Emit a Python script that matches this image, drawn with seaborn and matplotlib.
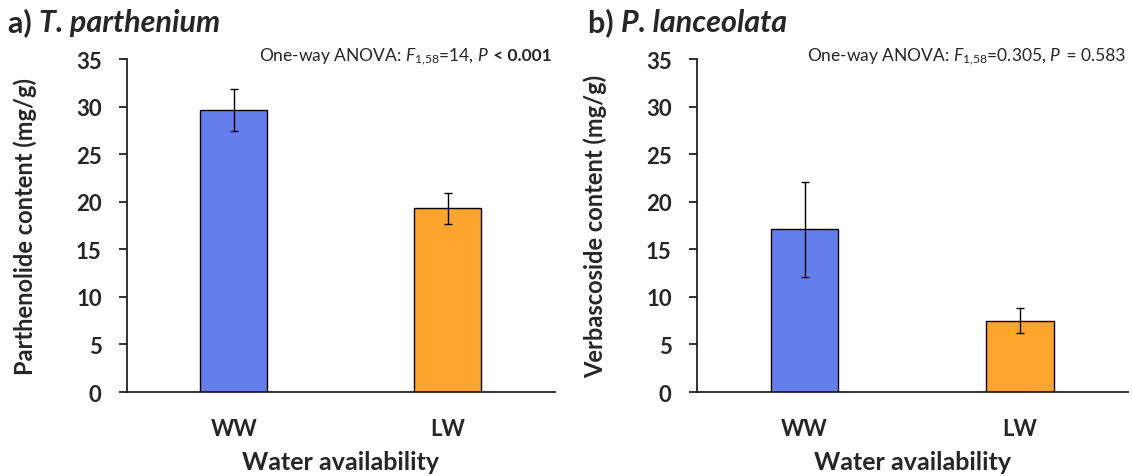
import numpy as np
import pandas as pd
import matplotlib
matplotlib.use("Agg")
import matplotlib.pyplot as plt
import seaborn as sns

# ---- data ----
categories = ["WW", "LW"]
parthenolide_mean = [29.6, 19.3]
parthenolide_err = [2.2, 1.6]
verbascoside_mean = [17.1, 7.5]
verbascoside_err = [5.0, 1.3]
yticks = [0, 5, 10, 15, 20, 25, 30, 35]
bar_colors = ["#647EEB", "#FFA52E"]

sns.set_theme(style="white")
plt.rcParams["font.family"] = ["Lato", "DejaVu Sans"]
plt.rcParams["mathtext.fontset"] = "custom"
plt.rcParams["mathtext.rm"] = "Lato"
plt.rcParams["mathtext.it"] = "Lato:italic"
plt.rcParams["mathtext.bf"] = "Lato:bold"

W, H = 1132, 477
fig = plt.figure(figsize=(W / 100, H / 100), dpi=100)
fig.patch.set_facecolor("white")

ax_bottom = 1 - 393 / H
ax_h = (393 - 60) / H
axL = fig.add_axes([126.7 / W, ax_bottom, (555 - 126.7) / W, ax_h])
axR = fig.add_axes([696.7 / W, ax_bottom, (1128 - 696.7) / W, ax_h])

panels = [
    (axL, parthenolide_mean, parthenolide_err, "Parthenolide content (mg/g)",
     "a) ", "T. parthenium", 8,
     r"One-way ANOVA: $\mathit{F}_{1{,}58}$=14, $\mathit{P}$", " < 0.001", True, 552),
    (axR, verbascoside_mean, verbascoside_err, "Verbascoside content (mg/g)",
     "b) ", "P. lanceolata", 588,
     r"One-way ANOVA: $\mathit{F}_{1{,}58}$=0.305, $\mathit{P}$", " = 0.583", False, 1125),
]

texts = []
for ax, means, errs, ylabel, tprefix, tspecies, tx, anova, pval, pbold, ax_right in panels:
    df = pd.DataFrame({"Water availability": categories, "value": means})
    sns.barplot(data=df, x="Water availability", y="value", hue="Water availability",
                palette=bar_colors, width=0.3125, edgecolor="black", linewidth=1.0,
                errorbar=None, legend=False, ax=ax, saturation=1)
    ax.errorbar(np.arange(len(categories)), means, yerr=errs, fmt="none",
                ecolor="black", elinewidth=1.0, capsize=3, capthick=1.0)
    ax.set_xlim(-0.5, 1.5)
    ax.set_ylim(0, 35)
    ax.set_yticks(yticks)
    ax.set_yticklabels([str(t) for t in yticks], fontsize=16, fontweight="bold")
    ax.set_xticks(range(len(categories)))
    ax.set_xticklabels(categories, fontsize=16, fontweight="bold")
    ax.set_ylabel(ylabel, fontsize=17, fontweight="bold", labelpad=28)
    ax.set_xlabel("Water availability", fontsize=18, fontweight="bold", labelpad=8)
    for s in ["top", "right"]:
        ax.spines[s].set_visible(False)
    for s in ["left", "bottom"]:
        ax.spines[s].set_color("#222222")
        ax.spines[s].set_linewidth(1.3)
    ax.tick_params(axis="y", which="major", direction="out", length=6, width=1.3,
                   color="#222222", left=True, pad=12)
    ax.tick_params(axis="x", which="major", length=0, pad=19)
    ax.set_facecolor("white")

    t1 = fig.text(tx / W, 1 - 32 / H, tprefix, fontsize=22, fontweight="bold",
                  va="baseline", ha="left")
    ax.annotate(tspecies, xy=(1, 0), xycoords=t1, va="bottom", ha="left",
                fontsize=22, fontweight="bold", fontstyle="italic",
                annotation_clip=False)
    tp = fig.text(ax_right / W, 1 - 61 / H, pval, fontsize=12.5, va="baseline", ha="right",
                  fontweight="bold" if pbold else "normal")
    texts.append((tp, anova))

fig.canvas.draw()
for tp, anova in texts:
    bb = tp.get_window_extent()
    fig.text(bb.x0 / W, 1 - 61 / H, anova, fontsize=12.5, va="baseline", ha="right")

fig.savefig("out.png", dpi=100, facecolor="white")
